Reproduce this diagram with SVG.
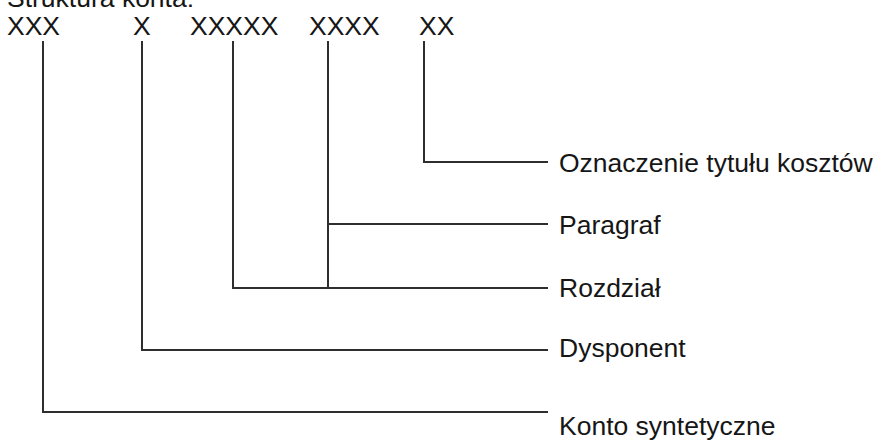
<svg xmlns="http://www.w3.org/2000/svg" width="877" height="441" viewBox="0 0 877 441">
  <style>
    .t { font-family: "Liberation Sans", Arial, sans-serif; font-size: 26.5px; fill: #161616; }
    .c { fill: none; stroke: #2e2e2e; stroke-width: 2; stroke-linecap: square; stroke-linejoin: miter; }
  </style>
  <rect width="877" height="441" fill="#ffffff"/>
  <g id="title">
    <text class="t" x="7" y="6.5">Struktura konta:</text>
  </g>
  <g id="code">
    <text id="seg-xxx" class="t" x="7" y="35">XXX</text>
    <text id="seg-x" class="t" x="133" y="35">X</text>
    <text id="seg-xxxxx" class="t" x="190" y="35">XXXXX</text>
    <text id="seg-xxxx" class="t" x="309" y="35">XXXX</text>
    <text id="seg-xx" class="t" x="419" y="35">XX</text>
  </g>
  <g id="connectors">
    <path class="c" d="M424 42 V162 H547"/>
    <path class="c" d="M328 42 V288 M328 224 H547"/>
    <path class="c" d="M233 42 V288 H547"/>
    <path class="c" d="M142 42 V350 H547"/>
    <path class="c" d="M43 42 V412 H547"/>
  </g>
  <g id="label-oznaczenie">
    <text class="t" x="559" y="171.5">Oznaczenie tytułu kosztów</text>
  </g>
  <g id="label-paragraf">
    <text class="t" x="559" y="233.5">Paragraf</text>
  </g>
  <g id="label-rozdzial">
    <text class="t" x="559" y="297">Rozdział</text>
  </g>
  <g id="label-dysponent">
    <text class="t" x="559" y="357">Dysponent</text>
  </g>
  <g id="label-konto">
    <text class="t" x="559" y="435">Konto syntetyczne</text>
  </g>
</svg>
